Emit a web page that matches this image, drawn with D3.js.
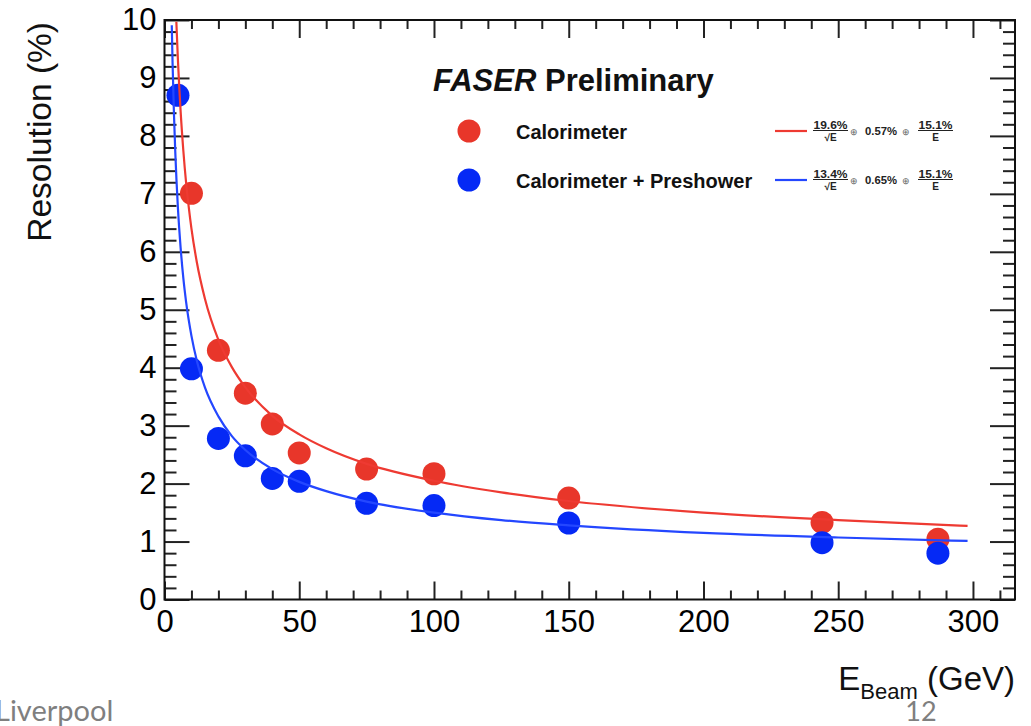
<!DOCTYPE html>
<html>
<head>
<meta charset="utf-8">
<script src="https://cdn.jsdelivr.net/npm/d3@7"></script>
<style>
  html, body { margin: 0; padding: 0; background: #fff; }
  svg { display: block; }
  text { font-family: "Liberation Sans", Arial, Helvetica, sans-serif; }
</style>
</head>
<body>
<svg id="chart" width="1031" height="726"></svg>
<script>
// ---------------- data ----------------
const energyRed = [10, 20, 30, 40, 50, 75, 100, 150, 244, 287];
const resRed    = [7.01, 4.30, 3.56, 3.03, 2.53, 2.25, 2.17, 1.75, 1.33, 1.04];
const energyBlue = [5, 10, 20, 30, 40, 50, 75, 100, 150, 244, 287];
const resBlue    = [8.70, 3.98, 2.78, 2.48, 2.09, 2.04, 1.66, 1.62, 1.32, 0.98, 0.80];

// fit curves
const fitEnergyRed = [4.4, 4.5, 5, 5.5, 6, 7, 8, 9, 10, 12, 15, 20, 25, 30, 40, 50, 60, 75, 100, 125, 150, 200, 250, 298];
const fitResRed    = [9.97, 9.85, 9.29, 8.82, 8.41, 7.74, 7.20, 6.77, 6.40, 5.82, 5.19, 4.48, 4.01, 3.66, 3.17, 2.85, 2.61, 2.34, 2.05, 1.85, 1.70, 1.50, 1.37, 1.27];
const fitEnergyBlue = [2.7, 3, 3.5, 4, 5, 6, 7, 8, 10, 12, 15, 20, 25, 30, 40, 50, 60, 75, 100, 125, 150, 200, 250, 298];
const fitResBlue    = [9.91, 9.25, 8.39, 7.72, 6.74, 6.06, 5.54, 5.14, 4.55, 4.12, 3.66, 3.16, 2.82, 2.58, 2.25, 2.03, 1.87, 1.69, 1.50, 1.37, 1.28, 1.15, 1.07, 1.01];

const xMajorTicks = [0, 50, 100, 150, 200, 250, 300];
const yMajorTicks = [0, 1, 2, 3, 4, 5, 6, 7, 8, 9, 10];
const seriesNames = ["Calorimeter", "Calorimeter + Preshower"];
const fitStochastic = ["19.6%", "13.4%"];
const fitConstant = ["0.57%", "0.65%"];
const fitNoise = ["15.1%", "15.1%"];

// ---------------- layout ----------------
const L = 164.5, R = 1015, T = 20, B = 599.5;
const redPt = "#e8362a", bluePt = "#0529f5";
const redLn = "#ee3a32", blueLn = "#2447ff";

const svg = d3.select("#chart");
const x = d3.scaleLinear().domain([0, 315.6]).range([L, R]);
const y = d3.scaleLinear().domain([0, 10]).range([B, T]);

const xMinor = d3.range(0, 311, 10).filter(v => v % 50 !== 0);
const yMinor = d3.range(0, 50).map(i => i / 5).filter(v => Math.abs(v - Math.round(v)) > 1e-6);

function styleAxis(g) {
  g.select(".domain").remove();
  g.selectAll(".tick line").attr("stroke", "#222").attr("stroke-width", 2);
}

// bottom major
svg.append("g").attr("transform", `translate(0,${B})`)
  .call(d3.axisBottom(x).tickValues(xMajorTicks).tickSize(-18).tickPadding(10.5).tickFormat(d3.format("d")))
  .call(styleAxis)
  .call(g => g.selectAll("text").attr("font-size", 31).attr("fill", "#000")
    .attr("font-family", "'Liberation Sans', Arial, sans-serif"));
svg.append("g").attr("transform", `translate(0,${B})`)
  .call(d3.axisBottom(x).tickValues(xMinor).tickSize(-9).tickFormat(""))
  .call(styleAxis);
// top mirror
svg.append("g").attr("transform", `translate(0,${T})`)
  .call(d3.axisTop(x).tickValues(xMajorTicks).tickSize(-18).tickFormat(""))
  .call(styleAxis);
svg.append("g").attr("transform", `translate(0,${T})`)
  .call(d3.axisTop(x).tickValues(xMinor).tickSize(-9).tickFormat(""))
  .call(styleAxis);
// left major
svg.append("g").attr("transform", `translate(${L},0)`)
  .call(d3.axisLeft(y).tickValues(yMajorTicks).tickSize(-25).tickPadding(8).tickFormat(d3.format("d")))
  .call(styleAxis)
  .call(g => g.selectAll("text").attr("font-size", 31).attr("fill", "#000")
    .attr("font-family", "'Liberation Sans', Arial, sans-serif"));
svg.append("g").attr("transform", `translate(${L},0)`)
  .call(d3.axisLeft(y).tickValues(yMinor).tickSize(-12).tickFormat(""))
  .call(styleAxis);
// right mirror
svg.append("g").attr("transform", `translate(${R},0)`)
  .call(d3.axisRight(y).tickValues(yMajorTicks).tickSize(-25).tickFormat(""))
  .call(styleAxis);
svg.append("g").attr("transform", `translate(${R},0)`)
  .call(d3.axisRight(y).tickValues(yMinor).tickSize(-12).tickFormat(""))
  .call(styleAxis);

// frame
svg.append("rect").attr("x", L).attr("y", T).attr("width", R - L).attr("height", B - T)
  .attr("fill", "none").attr("stroke", "#111").attr("stroke-width", 2);

// clip
svg.append("clipPath").attr("id", "plotclip").append("rect")
  .attr("x", L).attr("y", T).attr("width", R - L).attr("height", B - T);
const plot = svg.append("g").attr("clip-path", "url(#plotclip)");

// points
plot.append("g").selectAll("circle").data(energyRed.map((e, i) => [e, resRed[i]])).join("circle")
  .attr("cx", d => x(d[0])).attr("cy", d => y(d[1])).attr("r", 11.5).attr("fill", redPt);
plot.append("g").selectAll("circle").data(energyBlue.map((e, i) => [e, resBlue[i]])).join("circle")
  .attr("cx", d => x(d[0])).attr("cy", d => y(d[1])).attr("r", 11.5).attr("fill", bluePt);

// curves
const line = d3.line().x(d => x(d[0])).y(d => y(d[1])).curve(d3.curveMonotoneX);
plot.append("path").datum(fitEnergyRed.map((e, i) => [e, fitResRed[i]]))
  .attr("d", line).attr("fill", "none").attr("stroke", redLn).attr("stroke-width", 2.2);
plot.append("path").datum(fitEnergyBlue.map((e, i) => [e, fitResBlue[i]]))
  .attr("d", line).attr("fill", "none").attr("stroke", blueLn).attr("stroke-width", 2.2);

// axis titles
svg.append("text").attr("transform", "translate(51,22) rotate(-90)")
  .attr("text-anchor", "end").attr("font-size", 33.5).attr("fill", "#111")
  .text("Resolution (%)");
const xt = svg.append("text").attr("x", 1015).attr("y", 690).attr("text-anchor", "end")
  .attr("font-size", 33).attr("fill", "#111");
xt.append("tspan").text("E");
xt.append("tspan").attr("font-size", 22).attr("dy", 9).text("Beam");
xt.append("tspan").attr("dy", -9).text(" (GeV)");

// header
const hd = svg.append("text").attr("x", 433).attr("y", 91).attr("font-size", 31).attr("font-weight", "bold").attr("fill", "#111");
hd.append("tspan").attr("font-style", "italic").text("FASER");
hd.append("tspan").text(" Preliminary");

// legend
const rows = [131, 180];
const ptCols = [redPt, bluePt];
const lnCols = [redLn, blueLn];
rows.forEach((ry, i) => {
  svg.append("circle").attr("cx", 469).attr("cy", ry).attr("r", 11.5).attr("fill", ptCols[i]);
  svg.append("text").attr("x", 516).attr("y", ry + 7.5).attr("font-size", 20).attr("font-weight", "bold")
    .attr("fill", "#111").text(seriesNames[i]);
  svg.append("line").attr("x1", 775).attr("x2", 807).attr("y1", ry).attr("y2", ry)
    .attr("stroke", lnCols[i]).attr("stroke-width", 2.2);
  const f = svg.append("g").attr("font-weight", "bold").attr("fill", "#222");
  // stochastic term
  f.append("text").attr("x", 830.5).attr("y", ry - 2.5).attr("text-anchor", "middle").attr("font-size", 10)
    .attr("textLength", 34).attr("lengthAdjust", "spacingAndGlyphs").text(fitStochastic[i]);
  f.append("line").attr("x1", 813).attr("x2", 848).attr("y1", ry - 0.5).attr("y2", ry - 0.5)
    .attr("stroke", "#222").attr("stroke-width", 1);
  f.append("text").attr("x", 830.5).attr("y", ry + 10).attr("text-anchor", "middle").attr("font-size", 10).text("√E");
  // constant term
  f.append("text").attr("x", 853.5).attr("y", ry + 3.5).attr("text-anchor", "middle").attr("font-size", 9)
    .attr("font-weight", "normal").attr("fill", "#666").text("⊕");
  f.append("text").attr("x", 865).attr("y", ry + 4).attr("font-size", 10)
    .attr("textLength", 32).attr("lengthAdjust", "spacingAndGlyphs").text(fitConstant[i]);
  f.append("text").attr("x", 906).attr("y", ry + 3.5).attr("text-anchor", "middle").attr("font-size", 9)
    .attr("font-weight", "normal").attr("fill", "#666").text("⊕");
  // noise term
  f.append("text").attr("x", 935.5).attr("y", ry - 2.5).attr("text-anchor", "middle").attr("font-size", 10)
    .attr("textLength", 34).attr("lengthAdjust", "spacingAndGlyphs").text(fitNoise[i]);
  f.append("line").attr("x1", 918).attr("x2", 953).attr("y1", ry - 0.5).attr("y2", ry - 0.5)
    .attr("stroke", "#222").attr("stroke-width", 1);
  f.append("text").attr("x", 935.5).attr("y", ry + 10).attr("text-anchor", "middle").attr("font-size", 10).text("E");
});

// slide footer
svg.append("text").attr("x", -5).attr("y", 721).attr("font-size", 29).attr("fill", "#7f7f7f")
  .style("font-family", "Lato, 'Open Sans', sans-serif").text("Liverpool");
svg.append("text").attr("x", 921).attr("y", 721).attr("text-anchor", "middle").attr("font-size", 27).attr("fill", "#7f7f7f")
  .style("font-family", "Lato, 'Open Sans', sans-serif").text("12");
</script>
</body>
</html>
